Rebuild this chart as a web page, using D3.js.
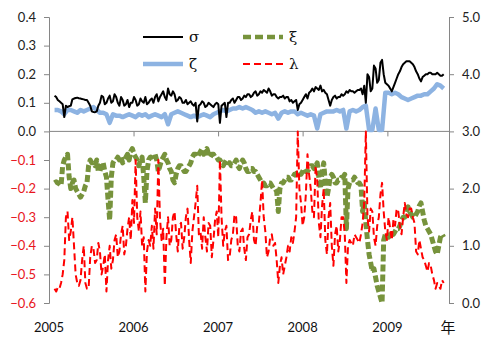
<!DOCTYPE html>
<html><head><meta charset="utf-8">
<script src="https://cdn.jsdelivr.net/npm/d3@7"></script>
<style>body{margin:0;background:#fff;}svg{display:block;}</style>
</head><body>
<svg id="c" width="485" height="340"></svg>
<script>
// --- data: weekly (σ, ξ, λ) and biweekly (ζ) observations starting 2005-01-25 ---
const startDate = "2005-01-25";
const sigma = [0.125,0.12,0.11,0.105,0.1,0.095,0.05,0.09,0.085,0.088,0.09,0.112,0.115,0.117,0.118,0.116,0.115,0.113,0.112,0.11,
 0.11,0.1,0.09,0.07,0.068,0.067,0.07,0.09,0.1,0.125,0.12,0.095,0.1,0.115,0.125,0.1,0.105,0.13,0.12,0.1,
 0.09,0.12,0.11,0.09,0.095,0.11,0.085,0.1,0.1,0.12,0.11,0.09,0.095,0.115,0.105,0.1,0.12,0.095,0.1,0.11,
 0.115,0.1,0.12,0.13,0.105,0.12,0.13,0.14,0.12,0.11,0.15,0.13,0.125,0.14,0.13,0.105,0.11,0.12,0.115,0.1,
 0.1,0.11,0.095,0.1,0.105,0.095,0.09,0.1,0.035,0.09,0.095,0.105,0.1,0.085,0.09,0.1,0.095,0.09,0.085,0.095,
 0.1,0.095,0.03,0.09,0.095,0.1,0.05,0.1,0.1,0.11,0.115,0.1,0.11,0.12,0.12,0.11,0.115,0.125,0.12,0.13,
 0.13,0.12,0.125,0.135,0.14,0.125,0.13,0.14,0.135,0.145,0.14,0.135,0.15,0.14,0.125,0.13,0.13,0.12,0.115,0.12,
 0.12,0.125,0.115,0.12,0.12,0.105,0.11,0.1,0.105,0.11,0.075,0.095,0.1,0.11,0.12,0.13,0.115,0.135,0.14,0.15,
 0.14,0.155,0.15,0.145,0.16,0.14,0.145,0.135,0.13,0.11,0.09,0.11,0.12,0.125,0.115,0.12,0.12,0.13,0.125,0.13,
 0.14,0.135,0.145,0.14,0.14,0.135,0.14,0.145,0.145,0.15,0.13,0.16,0.1,0.2,0.19,0.14,0.15,0.23,0.22,0.17,
 0.18,0.24,0.25,0.2,0.17,0.165,0.16,0.15,0.14,0.155,0.17,0.185,0.2,0.21,0.225,0.235,0.24,0.245,0.245,0.245,
 0.24,0.235,0.225,0.21,0.2,0.185,0.175,0.19,0.195,0.2,0.2,0.205,0.205,0.2,0.2,0.2,0.205,0.2,0.195,0.195,0.2];
const zeta = [0.075,0.075,0.07,0.06,0.075,0.075,0.07,0.065,0.075,0.07,
 0.075,0.08,0.085,0.075,0.065,0.065,0.06,0.03,0.06,0.055,
 0.055,0.05,0.055,0.06,0.055,0.05,0.06,0.055,0.06,0.05,
 0.055,0.06,0.055,0.05,0.06,0.025,0.06,0.065,0.07,0.065,
 0.06,0.055,0.05,0.055,0.05,0.055,0.06,0.055,0.05,0.06,
 0.065,0.07,0.075,0.07,0.075,0.08,0.08,0.085,0.08,0.085,
 0.08,0.075,0.065,0.07,0.065,0.07,0.065,0.06,0.065,0.045,
 0.065,0.07,0.065,0.07,0.07,0.06,0.065,0.06,0.055,0.06,
 0.055,0.01,0.06,0.065,0.07,0.07,0.07,0.075,0.07,0.075,
 0.01,0.07,0.075,0.07,0.075,0.085,0.09,0.005,0.005,0.08,
 0.005,0.005,0.135,0.135,0.13,0.135,0.13,0.12,0.115,0.11,
 0.115,0.12,0.125,0.125,0.13,0.13,0.14,0.15,0.165,0.16,0.15];
const xi = [2.1,2.12,2.1,2.08,2.05,2.4,2.5,2.55,2.6,2.2,2.0,2.1,2.15,2.0,1.95,1.9,1.85,1.9,1.95,2.05,
 2.1,2.4,2.5,2.45,2.45,2.4,2.5,2.3,2.3,2.45,2.45,2.3,2.2,1.8,1.45,2.2,2.45,2.5,2.5,2.55,
 2.5,2.55,2.45,2.5,2.55,2.6,2.5,2.65,2.7,2.6,2.55,2.5,2.4,2.5,2.55,2.2,1.75,2.3,2.5,2.55,
 2.55,2.6,2.6,2.5,2.3,2.4,2.5,2.55,2.6,2.5,2.45,2.35,2.3,2.15,2.1,2.25,2.35,2.4,2.4,2.35,
 2.3,2.3,2.35,2.4,2.45,2.55,2.6,2.6,2.55,2.6,2.65,2.7,2.6,2.65,2.7,2.6,2.55,2.6,2.6,2.55,
 2.55,2.5,2.5,2.45,2.4,2.45,2.5,2.45,2.45,2.4,2.4,2.45,2.5,2.4,2.35,2.45,2.5,2.45,2.35,2.3,
 2.3,2.35,2.35,2.3,2.3,2.25,2.2,2.15,2.1,2.1,2.05,2.05,2.1,2.1,2.05,2.0,2.0,1.95,1.6,2.0,
 2.1,2.1,2.15,2.2,2.2,2.15,2.15,2.2,2.25,2.25,2.3,2.3,2.25,2.3,2.35,2.3,2.3,2.35,2.4,2.4,
 2.35,2.4,2.45,2.2,2.0,2.3,2.45,2.1,1.85,2.0,2.2,2.25,2.2,2.1,2.1,2.15,2.15,2.2,2.2,2.25,
 1.3,2.0,2.1,2.15,2.15,2.2,2.15,2.1,2.1,2.05,1.6,1.75,1.4,1.1,0.85,0.7,0.55,0.6,0.45,0.3,
 0.2,0.1,0.0,1.1,1.2,1.15,1.15,1.2,1.25,1.2,1.25,1.3,1.3,1.35,1.45,1.5,1.5,1.6,1.68,1.6,
 1.55,1.5,1.5,1.55,1.6,1.7,1.75,1.6,1.45,1.35,1.3,1.25,1.2,1.1,1.0,0.9,0.85,1.0,1.15,1.2,1.15];
const lambda = [-0.55,-0.56,-0.545,-0.55,-0.53,-0.5,-0.45,-0.3,-0.28,-0.38,-0.35,-0.3,-0.4,-0.5,-0.53,-0.54,-0.52,-0.45,-0.4,-0.53,
 -0.55,-0.55,-0.44,-0.4,-0.41,-0.46,-0.45,-0.39,-0.42,-0.5,-0.47,-0.43,-0.56,-0.45,-0.4,-0.48,-0.45,-0.38,-0.36,-0.44,
 -0.42,-0.36,-0.33,-0.43,-0.4,-0.34,-0.3,-0.38,-0.24,-0.32,-0.1,-0.3,-0.35,-0.28,-0.4,-0.37,-0.56,-0.42,-0.38,-0.4,
 -0.33,-0.41,-0.27,-0.36,-0.1,-0.3,-0.38,-0.34,-0.54,-0.37,-0.3,-0.4,-0.38,-0.3,-0.28,-0.36,-0.42,-0.33,-0.32,-0.41,
 -0.37,-0.3,-0.27,-0.38,-0.46,-0.35,-0.3,-0.25,-0.19,-0.36,-0.35,-0.41,-0.3,-0.37,-0.42,-0.32,-0.33,-0.44,-0.38,-0.31,
 -0.28,-0.37,-0.1,-0.3,-0.4,-0.35,-0.33,-0.45,-0.44,-0.38,-0.36,-0.29,-0.3,-0.4,-0.42,-0.35,-0.34,-0.41,-0.45,-0.37,
 -0.36,-0.31,-0.28,-0.38,-0.4,-0.33,-0.32,-0.25,-0.17,-0.3,-0.35,-0.44,-0.42,-0.37,-0.36,-0.4,-0.39,-0.45,-0.53,-0.47,
 -0.44,-0.5,-0.47,-0.44,-0.4,-0.42,-0.37,-0.39,-0.35,-0.3,0.0,-0.2,-0.25,-0.33,-0.3,-0.22,-0.08,-0.15,-0.2,-0.28,
 -0.3,-0.12,-0.17,-0.32,-0.37,-0.26,-0.2,-0.38,-0.43,-0.3,-0.25,-0.4,-0.47,-0.36,-0.33,-0.42,-0.38,-0.3,-0.3,-0.36,
 -0.53,-0.4,-0.38,-0.39,-0.4,-0.36,-0.37,-0.38,-0.39,-0.36,-0.32,-0.25,0.0,-0.3,-0.35,-0.27,-0.28,-0.37,-0.4,-0.33,
 -0.3,-0.22,-0.18,-0.28,-0.35,-0.38,-0.3,-0.34,-0.38,-0.31,-0.33,-0.27,-0.28,-0.33,-0.36,-0.3,-0.25,-0.29,-0.3,-0.27,
 -0.27,-0.3,-0.32,-0.42,-0.43,-0.38,-0.41,-0.44,-0.45,-0.47,-0.49,-0.46,-0.47,-0.5,-0.52,-0.55,-0.53,-0.54,-0.55,-0.52,-0.53];
const yearLabels = ["2005","2006","2007","2008","2009"];
const leftTicks = [0.4,0.3,0.2,0.1,0.0,-0.1,-0.2,-0.3,-0.4,-0.5,-0.6];
const rightTicks = [5,4,3,2,1,0];
const legendNames = ["σ","ζ","ξ","λ"];

// --- layout ---
const L = 49, R = 449, T = 17, B = 303;
const svg = d3.select("#c");
const parse = d3.utcParse("%Y-%m-%d");
const t0 = parse(startDate);
const datesFor = (n, step) => d3.range(n).map(i => d3.utcDay.offset(t0, i * step));
const dW = datesFor(sigma.length, 7);
const dB = datesFor(zeta.length, 14);

const x = d3.scaleUtc().domain([parse("2005-01-01"), parse("2009-09-24")]).range([L, R]);
const yL = d3.scaleLinear().domain([-0.6, 0.4]).range([B, T]);
const yR = d3.scaleLinear().domain([0, 5]).range([B, T]);
const axisCol = "#868686";
const font = "Lato, 'Open Sans', sans-serif";

// left axis
const gl = svg.append("g").attr("transform", `translate(${L},0)`)
  .call(d3.axisLeft(yL).tickValues(leftTicks).tickSize(5).tickPadding(8).tickFormat(d3.format(".1f")));
gl.select(".domain").attr("stroke", axisCol);
gl.selectAll(".tick line").attr("stroke", axisCol);
gl.selectAll(".tick text").attr("font-family", font).attr("font-size", 13)
  .attr("fill", d => d < 0 ? "#e8141c" : "#222");

// right axis
const gr = svg.append("g").attr("transform", `translate(${R},0)`)
  .call(d3.axisRight(yR).tickValues(rightTicks).tickSize(5).tickPadding(8).tickFormat(d3.format(".1f")));
gr.select(".domain").attr("stroke", axisCol);
gr.selectAll(".tick line").attr("stroke", axisCol);
gr.selectAll(".tick text").attr("font-family", font).attr("font-size", 13).attr("fill", "#222");

// horizontal axis at zero
const yearDates = yearLabels.map(s => parse(s + "-01-01"));
const gx = svg.append("g").attr("transform", `translate(0,${yL(0)})`)
  .call(d3.axisBottom(x).tickValues(yearDates).tickSize(5).tickFormat(""));
gx.select(".domain").attr("stroke", axisCol).attr("d", `M${L},0H${R}`);
gx.selectAll(".tick line").attr("stroke", axisCol);

svg.append("g").selectAll("text").data(yearDates).join("text")
  .attr("x", d => x(d)).attr("y", 332).attr("text-anchor", "middle")
  .attr("font-family", font).attr("font-size", 13).attr("fill", "#111")
  .text((d, i) => yearLabels[i]);
svg.append("text").attr("x", 448).attr("y", 333).attr("text-anchor", "middle")
  .attr("font-family", "'Noto Sans CJK SC', sans-serif").attr("font-size", 15).attr("fill", "#111").text("年");

// series
const mk = (vals, dates, y) => d3.line().x((d, i) => x(dates[i])).y(d => y(d))(vals);

svg.append("path").attr("d", mk(zeta, dB, yL)).attr("fill", "none").attr("stroke", "#8DB3E2")
  .attr("stroke-width", 4.5).attr("stroke-linejoin", "round");
svg.append("path").attr("d", mk(sigma, dW, yL)).attr("fill", "none").attr("stroke", "#000")
  .attr("stroke-width", 2).attr("stroke-linejoin", "round");
svg.append("path").attr("d", mk(xi, dW, yR)).attr("fill", "none").attr("stroke", "#77933C")
  .attr("stroke-width", 5).attr("stroke-dasharray", "7,3").attr("stroke-linejoin", "round");
svg.append("path").attr("d", mk(lambda, dW, yL)).attr("fill", "none").attr("stroke", "#FF0000")
  .attr("stroke-width", 2).attr("stroke-dasharray", "7,4").attr("stroke-linejoin", "round");

// legend
const leg = [
  {n: legendNames[0], x: 143, y: 37, c: "#000", w: 2, da: null},
  {n: legendNames[1], x: 143, y: 64, c: "#8DB3E2", w: 4.5, da: null},
  {n: legendNames[2], x: 243, y: 37, c: "#77933C", w: 4.5, da: "8,4"},
  {n: legendNames[3], x: 243, y: 64, c: "#FF0000", w: 2, da: "7,4"}
];
const lg = svg.append("g").selectAll("g").data(leg).join("g");
lg.append("line").attr("x1", d => d.x).attr("x2", d => d.x + 40)
  .attr("y1", d => d.y).attr("y2", d => d.y)
  .attr("stroke", d => d.c).attr("stroke-width", d => d.w).attr("stroke-dasharray", d => d.da);
lg.append("text").attr("x", d => d.x + 46).attr("y", d => d.y + 5)
  .attr("font-family", "'DejaVu Serif', serif").attr("font-size", 15).attr("fill", "#111")
  .text(d => d.n);
</script>
</body></html>
